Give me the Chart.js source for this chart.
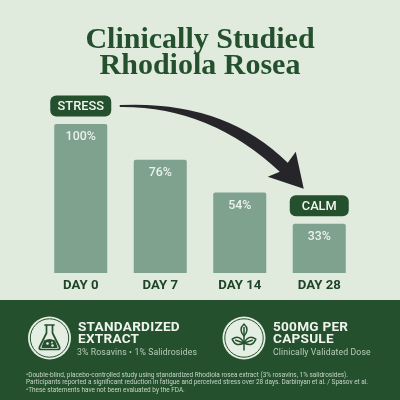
<!DOCTYPE html>
<html><head><meta charset="utf-8">
<style>
html,body{margin:0;padding:0;background:#e0ebde}
#w{position:relative;width:400px;height:400px;overflow:hidden}
canvas{position:absolute;left:0;top:0}
.t{position:absolute;white-space:nowrap;font-family:Roboto,sans-serif}
.h{font-weight:700;font-size:13.6px;line-height:12.5px;color:#eef4ec;letter-spacing:.25px}
.s{font-size:8.7px;line-height:11px;color:#b9ccba;letter-spacing:.12px}
.f{font-size:6.45px;line-height:7.5px;color:#c6d5c6;left:26px;top:371.5px}
</style></head><body><div id="w"><canvas id="c" width="400" height="400"></canvas>
<div class="t h" style="left:78px;top:319.5px">STANDARDIZED<br>EXTRACT</div>
<div class="t s" style="left:77px;top:346.5px">3% Rosavins • 1% Salidrosides</div>
<div class="t h" style="left:273px;top:319.5px">500MG PER<br>CAPSULE</div>
<div class="t s" style="left:273px;top:346.5px">Clinically Validated Dose</div>
<div class="t f" id="foot"></div>
</div>
<script src="https://cdn.jsdelivr.net/npm/chart.js@4/dist/chart.umd.min.js"></script>
<script>
const titleLines=["Clinically Studied","Rhodiola Rosea"];
const days=["DAY 0","DAY 7","DAY 14","DAY 28"];
const stress=[100,76,54,33];
const startBadge="STRESS", endBadge="CALM";
const footnotes=["•Double-blind, placebo-controlled study using standardized Rhodiola rosea extract (3% rosavins, 1% salidrosides).","Participants reported a significant reduction in fatigue and perceived stress over 28 days. Darbinyan et al. / Spasov et al.","•These statements have not been evaluated by the FDA."];
document.getElementById('foot').innerHTML=footnotes.join('<br>');
const GREEN='#24502e', BAR='#7ea28e', INK='#26262a', LIGHT='#e4eee2';
function rr(c,x,y,w,h,r){c.beginPath();c.roundRect(x,y,w,h,r);}
function badge(c,cx,cy,w,h,txt){c.fillStyle=GREEN;rr(c,cx-w/2,cy-h/2,w,h,6);c.fill();
 c.fillStyle='#f1f6ef';c.font='500 12.8px Roboto';c.textAlign='center';c.textBaseline='middle';c.fillText(txt,cx,cy+.5);}
function flask(c,x,y){c.save();c.translate(x,y);c.strokeStyle=GREEN;c.fillStyle=GREEN;c.lineWidth=1.7;c.lineJoin='round';c.lineCap='round';
 c.beginPath();c.moveTo(-4.5,-13);c.lineTo(4.5,-13);c.moveTo(-3,-13);c.lineTo(-3,-5);c.lineTo(-10,9);c.quadraticCurveTo(-11,11.5,-8,11.5);c.lineTo(8,11.5);c.quadraticCurveTo(11,11.5,10,9);c.lineTo(3,-5);c.lineTo(3,-13);c.stroke();
 c.beginPath();c.moveTo(-5.5,2.5);c.quadraticCurveTo(0,-.5,5.5,2.5);c.lineTo(8,9);c.quadraticCurveTo(8.5,10,7,10);c.lineTo(-7,10);c.quadraticCurveTo(-8.5,10,-8,9);c.closePath();c.fill();
 c.fillStyle=LIGHT;[[-2,5.5,1.3],[2.5,4.5,.9],[3,7.5,1.2]].forEach(p=>{c.beginPath();c.arc(p[0],p[1],p[2],0,7);c.fill();});c.restore();}
function leaf(c,a,len,wd){c.save();c.rotate(a);c.beginPath();c.moveTo(0,0);c.quadraticCurveTo(wd,-len*.55,0,-len);c.quadraticCurveTo(-wd,-len*.55,0,0);c.stroke();c.beginPath();c.moveTo(0,-1);c.lineTo(0,-len*.7);c.stroke();c.restore();}
function sprout(c,x,y){c.save();c.translate(x,y);c.strokeStyle=GREEN;c.lineWidth=1.5;c.lineJoin='round';c.lineCap='round';
 c.beginPath();c.moveTo(0,12);c.lineTo(0,-2);c.stroke();
 c.save();c.translate(0,-2);leaf(c,0,12,6);c.restore();
 c.save();c.translate(0,5);leaf(c,-1.25,12.5,7);leaf(c,1.25,12.5,7);c.restore();c.restore();}
function emblem(c,x,y,fn){c.fillStyle=LIGHT;c.beginPath();c.arc(x,y,21.5,0,7);c.fill();
 c.strokeStyle=GREEN;c.lineWidth=1;c.beginPath();c.arc(x,y,19.2,0,7);c.stroke();fn(c,x,y);}
const deco={id:'deco',
 beforeDraw(ch){const c=ch.ctx;c.save();c.fillStyle='#e0ebde';c.fillRect(0,0,400,400);
  c.fillStyle=GREEN;c.fillRect(0,300,400,100);c.restore();},
 afterDatasetsDraw(ch){const c=ch.ctx,m=ch.getDatasetMeta(0).data;c.save();
  c.fillStyle='#eaf1e8';c.font='500 12.4px Roboto';c.textAlign='center';c.textBaseline='middle';
  m.forEach((b,i)=>c.fillText(stress[i]+'%',b.x,b.y+13));
  badge(c,m[0].x,m[0].y-18,61,21,startBadge);
  badge(c,m[3].x,m[3].y-18,59,21,endBadge);
  const sx=m[0].x+39,sy=m[0].y-18,tx=m[3].x-15.5,ty=m[3].y-35;
  c.fillStyle=INK;c.beginPath();c.moveTo(sx,sy-1);
  c.quadraticCurveTo(sx+105,sy-6,tx-16,ty-26);
  c.lineTo(tx-8,ty-37);c.lineTo(tx,ty);c.lineTo(tx-36,ty-12);c.lineTo(tx-24,ty-17);
  c.quadraticCurveTo(sx+90,sy,sx,sy+1);c.closePath();c.fill();
  emblem(c,49.5,338,flask);emblem(c,244,338,sprout);
  c.restore();}};
new Chart(document.getElementById('c'),{type:'bar',plugins:[deco],
 data:{labels:days,datasets:[{data:stress,backgroundColor:BAR,borderWidth:0,borderRadius:{topLeft:2,topRight:2},categoryPercentage:1,barPercentage:.667}]},
 options:{responsive:false,animation:false,layout:{padding:{left:41,right:41,top:0,bottom:100}},
  plugins:{legend:{display:false},tooltip:{enabled:false},
   title:{display:true,text:titleLines,color:GREEN,font:{family:'"Liberation Serif"',size:30,weight:'bold',lineHeight:.87},padding:{top:27.5,bottom:44.3}}},
  scales:{y:{display:false,min:0,max:100},
   x:{grid:{display:false,drawTicks:false},border:{display:false},afterFit(s){s.height=27;},
      ticks:{color:'#1f4428',padding:5,font:{family:'Roboto',size:13.2,weight:'700'},maxRotation:0}}}}});
</script></body></html>
